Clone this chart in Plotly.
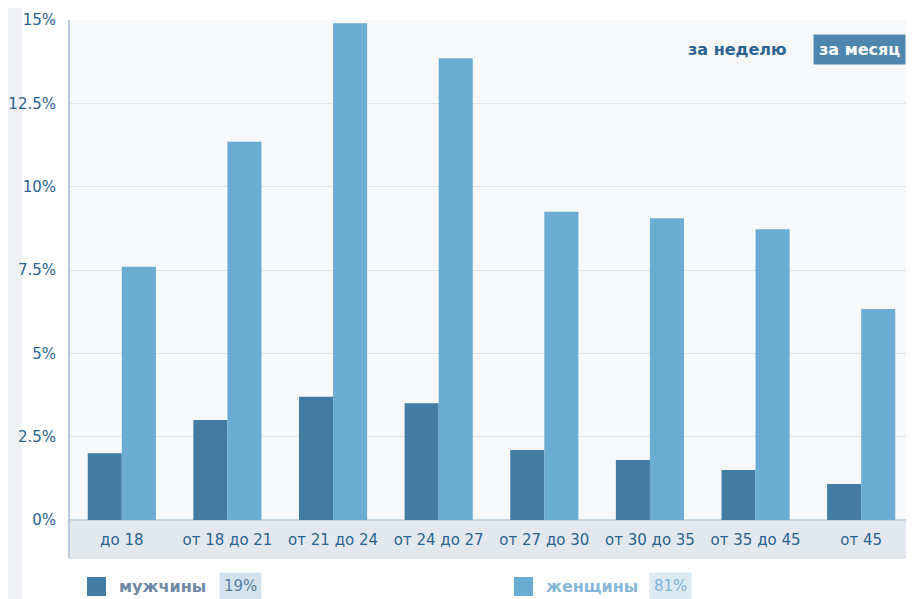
import plotly.graph_objects as go

# age groups and share of audience, %
categories = ["до 18", "от 18 до 21", "от 21 до 24", "от 24 до 27",
              "от 27 до 30", "от 30 до 35", "от 35 до 45", "от 45"]
men = [2.0, 3.0, 3.7, 3.5, 2.1, 1.8, 1.5, 1.08]
women = [7.6, 11.35, 14.9, 13.85, 9.25, 9.05, 8.72, 6.33]
men_total = "19%"
women_total = "81%"
y_ticks = [0, 2.5, 5, 7.5, 10, 12.5, 15]
y_labels = ["0%", "2.5%", "5%", "7.5%", "10%", "12.5%", "15%"]

DARK = "#437ca3"
LIGHT = "#6aacd2"
TEXT = "#2c6390"
FONT = "DejaVu Sans"

# page body has an 8px margin, so the figure is drawn 8px in from the window corner
OFF = 8
W, H = 914, 599
L, R, T, B = 69, 0, 20, 79
PW, PH = W - L - R, H - T - B


def px_x(x):
    return (x - L) / PW


def px_y(y):
    return (H - B - y) / PH


fig = go.Figure()
fig.add_trace(go.Bar(x=categories, y=men, name="мужчины", marker=dict(color=DARK, line=dict(width=0))))
fig.add_trace(go.Bar(x=categories, y=women, name="женщины", marker=dict(color=LIGHT, line=dict(width=0))))

shapes = [
    # left grey strip
    dict(type="rect", xref="paper", yref="paper", x0=px_x(0), x1=px_x(22), y0=px_y(H), y1=px_y(0),
         fillcolor="#eef0f3", line_width=0, layer="below"),
    # x label band
    dict(type="rect", xref="paper", yref="paper", x0=0, x1=1, y0=px_y(558), y1=0,
         fillcolor="#e3e8ee", line=dict(color="#c9d6e3", width=1), layer="below"),
    dict(type="line", xref="paper", yref="paper", x0=0, x1=0, y0=px_y(558), y1=1,
         line=dict(color="#b8cadb", width=2)),
    # legend squares
    dict(type="rect", xref="paper", yref="paper", x0=px_x(87), x1=px_x(106), y0=px_y(596), y1=px_y(577),
         fillcolor=DARK, line_width=0),
    dict(type="rect", xref="paper", yref="paper", x0=px_x(514), x1=px_x(533), y0=px_y(596), y1=px_y(577),
         fillcolor=LIGHT, line_width=0),
]

annotations = [
    dict(text="<b>за неделю</b>", x=px_x(737), y=px_y(49), font=dict(size=16, color=TEXT)),
    dict(text="<b>за месяц</b>", x=px_x(859), y=px_y(49), font=dict(size=16, color="white"),
         bgcolor="#4f86ad", borderpad=5),
    dict(text="<b>мужчины</b>", x=px_x(117), y=px_y(586), xanchor="left", font=dict(size=16, color="#6e8aa3")),
    dict(text=men_total, x=px_x(240), y=px_y(586), font=dict(size=15, color="#5a7d9c"),
         bgcolor="#d5e3ee", borderpad=4),
    dict(text="<b>женщины</b>", x=px_x(544), y=px_y(586), xanchor="left", font=dict(size=16, color="#88b8d8")),
    dict(text=women_total, x=px_x(670), y=px_y(586), font=dict(size=15, color="#7fb2d6"),
         bgcolor="#dceaf4", borderpad=4),
]
for a in annotations:
    a.update(xref="paper", yref="paper", showarrow=False, yanchor="middle")
    a.setdefault("xanchor", "center")

fig.update_layout(
    width=W - OFF, height=H - OFF,
    margin=dict(l=L - OFF, r=R, t=T - OFF, b=B),
    paper_bgcolor="white",
    plot_bgcolor="#f7f8f9",
    barmode="group", bargap=0.355, bargroupgap=0,
    showlegend=False,
    font=dict(family=FONT, size=14, color=TEXT),
    xaxis=dict(showgrid=False, ticks="outside", ticklen=6, tickcolor="rgba(0,0,0,0)",
               tickfont=dict(size=15, color=TEXT), showline=False),
    yaxis=dict(range=[0, 15], tickvals=y_ticks, ticktext=y_labels, gridcolor="#dde4ec",
               zeroline=True, zerolinecolor="#c9d6e3", zerolinewidth=2,
               ticks="outside", ticklen=9, tickcolor="rgba(0,0,0,0)",
               tickfont=dict(size=15, color=TEXT)),
    shapes=shapes,
    annotations=annotations,
)

fig.write_html("out.html")
